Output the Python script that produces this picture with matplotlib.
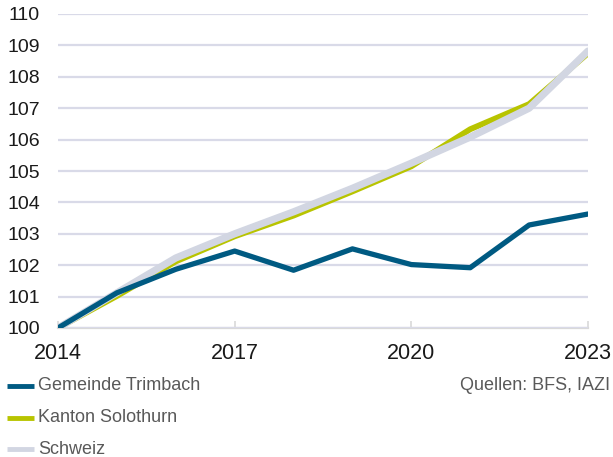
import matplotlib
matplotlib.use("Agg")
import matplotlib.pyplot as plt
import numpy as np

years = [2014, 2015, 2016, 2017, 2018, 2019, 2020, 2021, 2022, 2023]
trimbach = [100.0, 101.12, 101.87, 102.45, 101.84, 102.52, 102.02, 101.92, 103.28, 103.63]
solothurn = [100.0, 101.02, 102.12, 102.92, 103.58, 104.35, 105.15, 106.33, 107.13, 108.75]
schweiz = [100.0, 101.12, 102.23, 103.0, 103.7, 104.45, 105.25, 106.08, 107.0, 108.82]

labels = ['Gemeinde Trimbach', 'Kanton Solothurn', 'Schweiz']
colors = ['#005A82', '#B8C400', '#D2D6E2']

plt.rcParams['font.family'] = ['Liberation Sans', 'DejaVu Sans']

fig = plt.figure(figsize=(6.13, 4.57), dpi=100)
ax = fig.add_axes([58 / 613, (457 - 328) / 457, 530 / 613, 314 / 457])

ax.plot(years, solothurn, color=colors[1], lw=4.2, solid_capstyle='round', zorder=3)
ax.plot(years, schweiz, color=colors[2], lw=5.2, solid_capstyle='round', zorder=4)
ax.plot(years, trimbach, color=colors[0], lw=3.8, solid_capstyle='round', zorder=5)

ax.set_xlim(2014, 2023)
ax.set_ylim(100, 110)
ax.set_yticks(np.arange(100, 111, 1))
ax.set_xticks([2014, 2017, 2020, 2023])
ax.grid(axis='y', color='#D9DAE8', lw=1.6, zorder=0)
for s in ['top', 'right', 'left']:
    ax.spines[s].set_visible(False)
ax.spines['bottom'].set_color('#D9D9D9')
ax.spines['bottom'].set_linewidth(1.6)
ax.spines['bottom'].set_zorder(1)
ax.tick_params(axis='y', length=0, pad=13, labelsize=14, labelcolor='#1a1a1a')
ax.tick_params(axis='x', direction='in', length=5, width=1.2, color='#D9D9D9',
               pad=11, labelsize=15.5, labelcolor='#1a1a1a')

# legend
for i, (lab, c) in enumerate(zip(labels, colors)):
    y = 1 - (386 + 31.5 * i) / 457
    fig.add_artist(plt.Line2D([7 / 613, 34 / 613], [y, y], color=c, lw=3.5,
                              solid_capstyle='butt', transform=fig.transFigure))
    fig.text(38 / 613, y, lab, fontsize=13, color='#595959', va='center', ha='left')
fig.text(610 / 613, 1 - 386 / 457, 'Quellen: BFS, IAZI', fontsize=13,
         color='#595959', va='center', ha='right')

fig.savefig('out.png', dpi=100)
